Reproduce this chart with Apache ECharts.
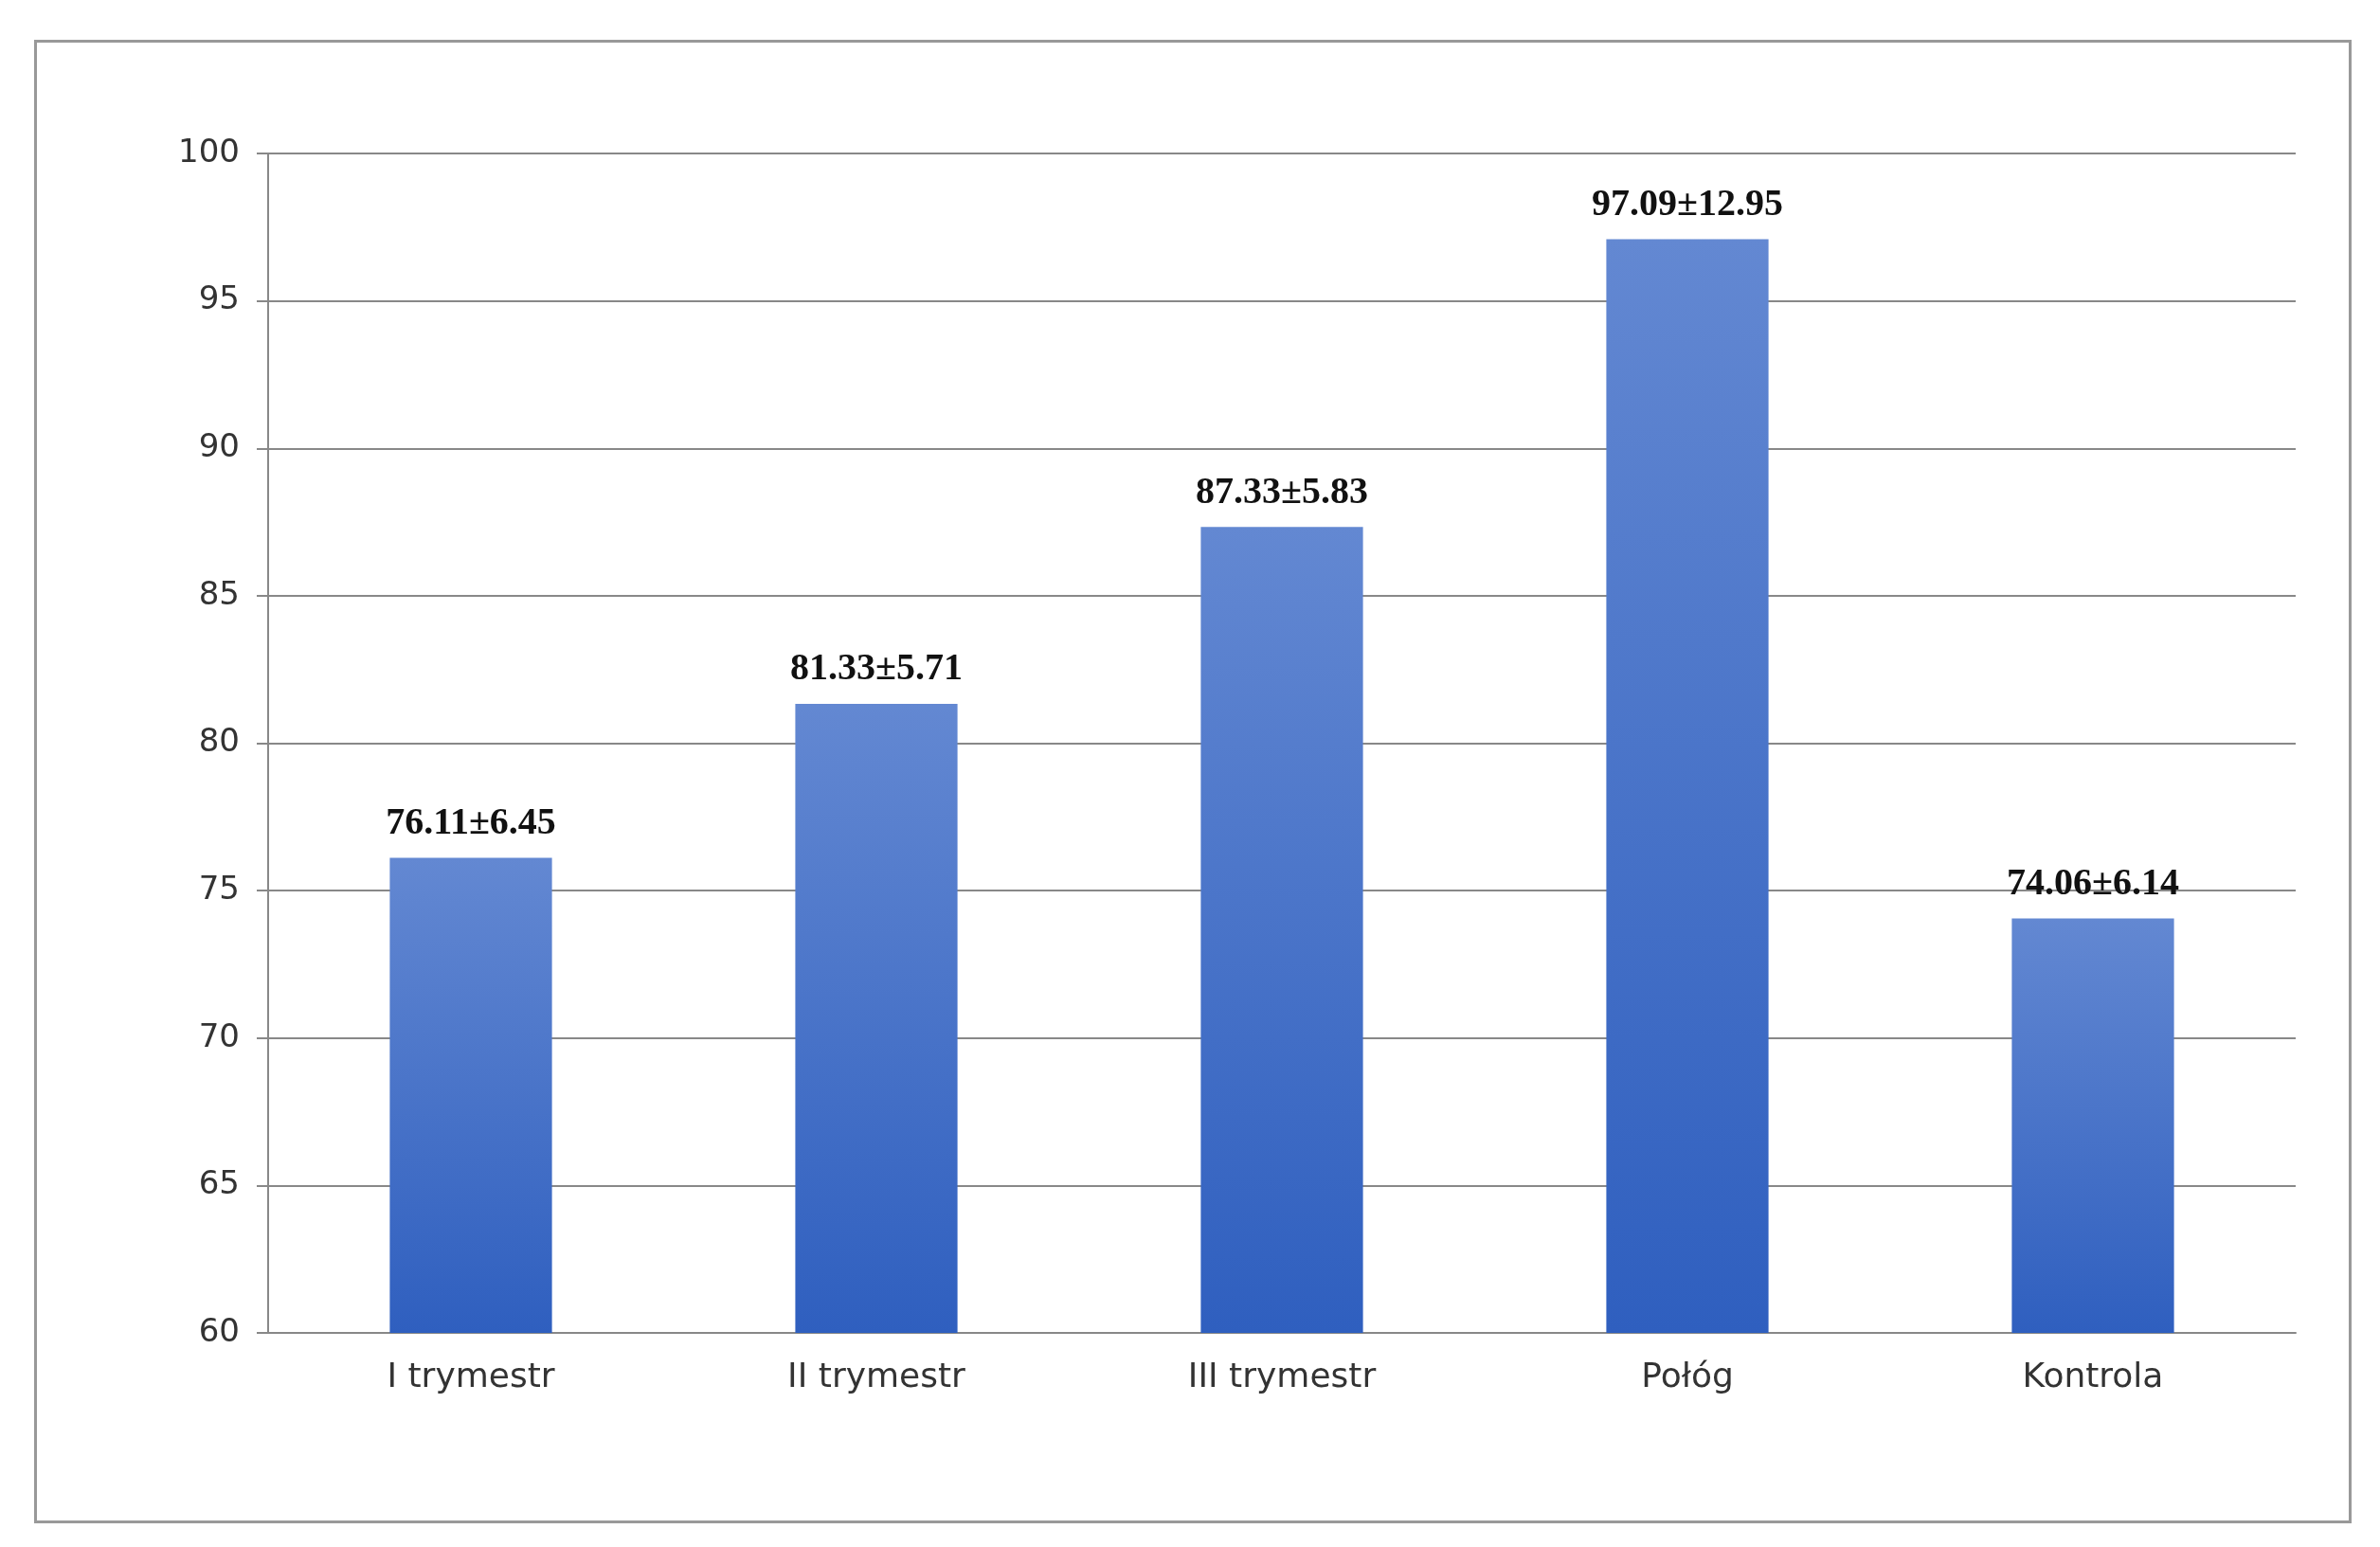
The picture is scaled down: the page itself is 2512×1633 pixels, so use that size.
<!DOCTYPE html>
<html><head><meta charset="utf-8">
<script src="https://cdn.jsdelivr.net/npm/echarts@6/dist/echarts.min.js"></script>
<style>html,body{margin:0;background:#fff}#c{width:2512px;height:1633px}
#frame{position:absolute;left:36px;top:42px;width:2446px;height:1566px;border:3px solid #999;box-sizing:border-box;pointer-events:none}</style>
</head><body><div id="c"></div><div id="frame"></div>
<script>
var categories = ['I trymestr', 'II trymestr', 'III trymestr', 'Połóg', 'Kontrola'];
var means = [76.11, 81.33, 87.33, 97.09, 74.06];
var sds = [6.45, 5.71, 5.83, 12.95, 6.14];
var yTicks = { min: 60, max: 100, interval: 5 };

var chart = echarts.init(document.getElementById('c'));
chart.setOption({
    animation: false,
    grid: { left: 283, right: 89, top: 162, bottom: 226 },
    xAxis: {
        type: 'category',
        data: categories,
        axisLine: { lineStyle: { color: '#888', width: 2 } },
        axisTick: { length: 12, lineStyle: { color: '#888', width: 2 } },
        axisLabel: { fontSize: 36, color: '#333', margin: 30, fontFamily: 'DejaVu Sans' }
    },
    yAxis: {
        type: 'value',
        min: yTicks.min, max: yTicks.max, interval: yTicks.interval,
        axisLine: { show: true, lineStyle: { color: '#888', width: 2 } },
        axisTick: { show: true, length: 12, lineStyle: { color: '#888', width: 2 } },
        axisLabel: { fontSize: 34, color: '#333', margin: 30, fontFamily: 'DejaVu Sans' },
        splitLine: { lineStyle: { color: '#888', width: 2 } }
    },
    series: [{
        type: 'bar',
        barWidth: '40%',
        data: means,
        itemStyle: {
            color: new echarts.graphic.LinearGradient(0, 0, 0, 1, [
                { offset: 0, color: '#6388d2' },
                { offset: 1, color: '#2f5fbf' }
            ])
        },
        label: {
            show: true,
            position: 'top',
            distance: 16,
            fontSize: 40,
            fontWeight: 'bold',
            color: '#111',
            fontFamily: 'Liberation Serif',
            formatter: function (p) { return means[p.dataIndex].toFixed(2) + '±' + sds[p.dataIndex].toFixed(2); }
        }
    }]
});
</script></body></html>
